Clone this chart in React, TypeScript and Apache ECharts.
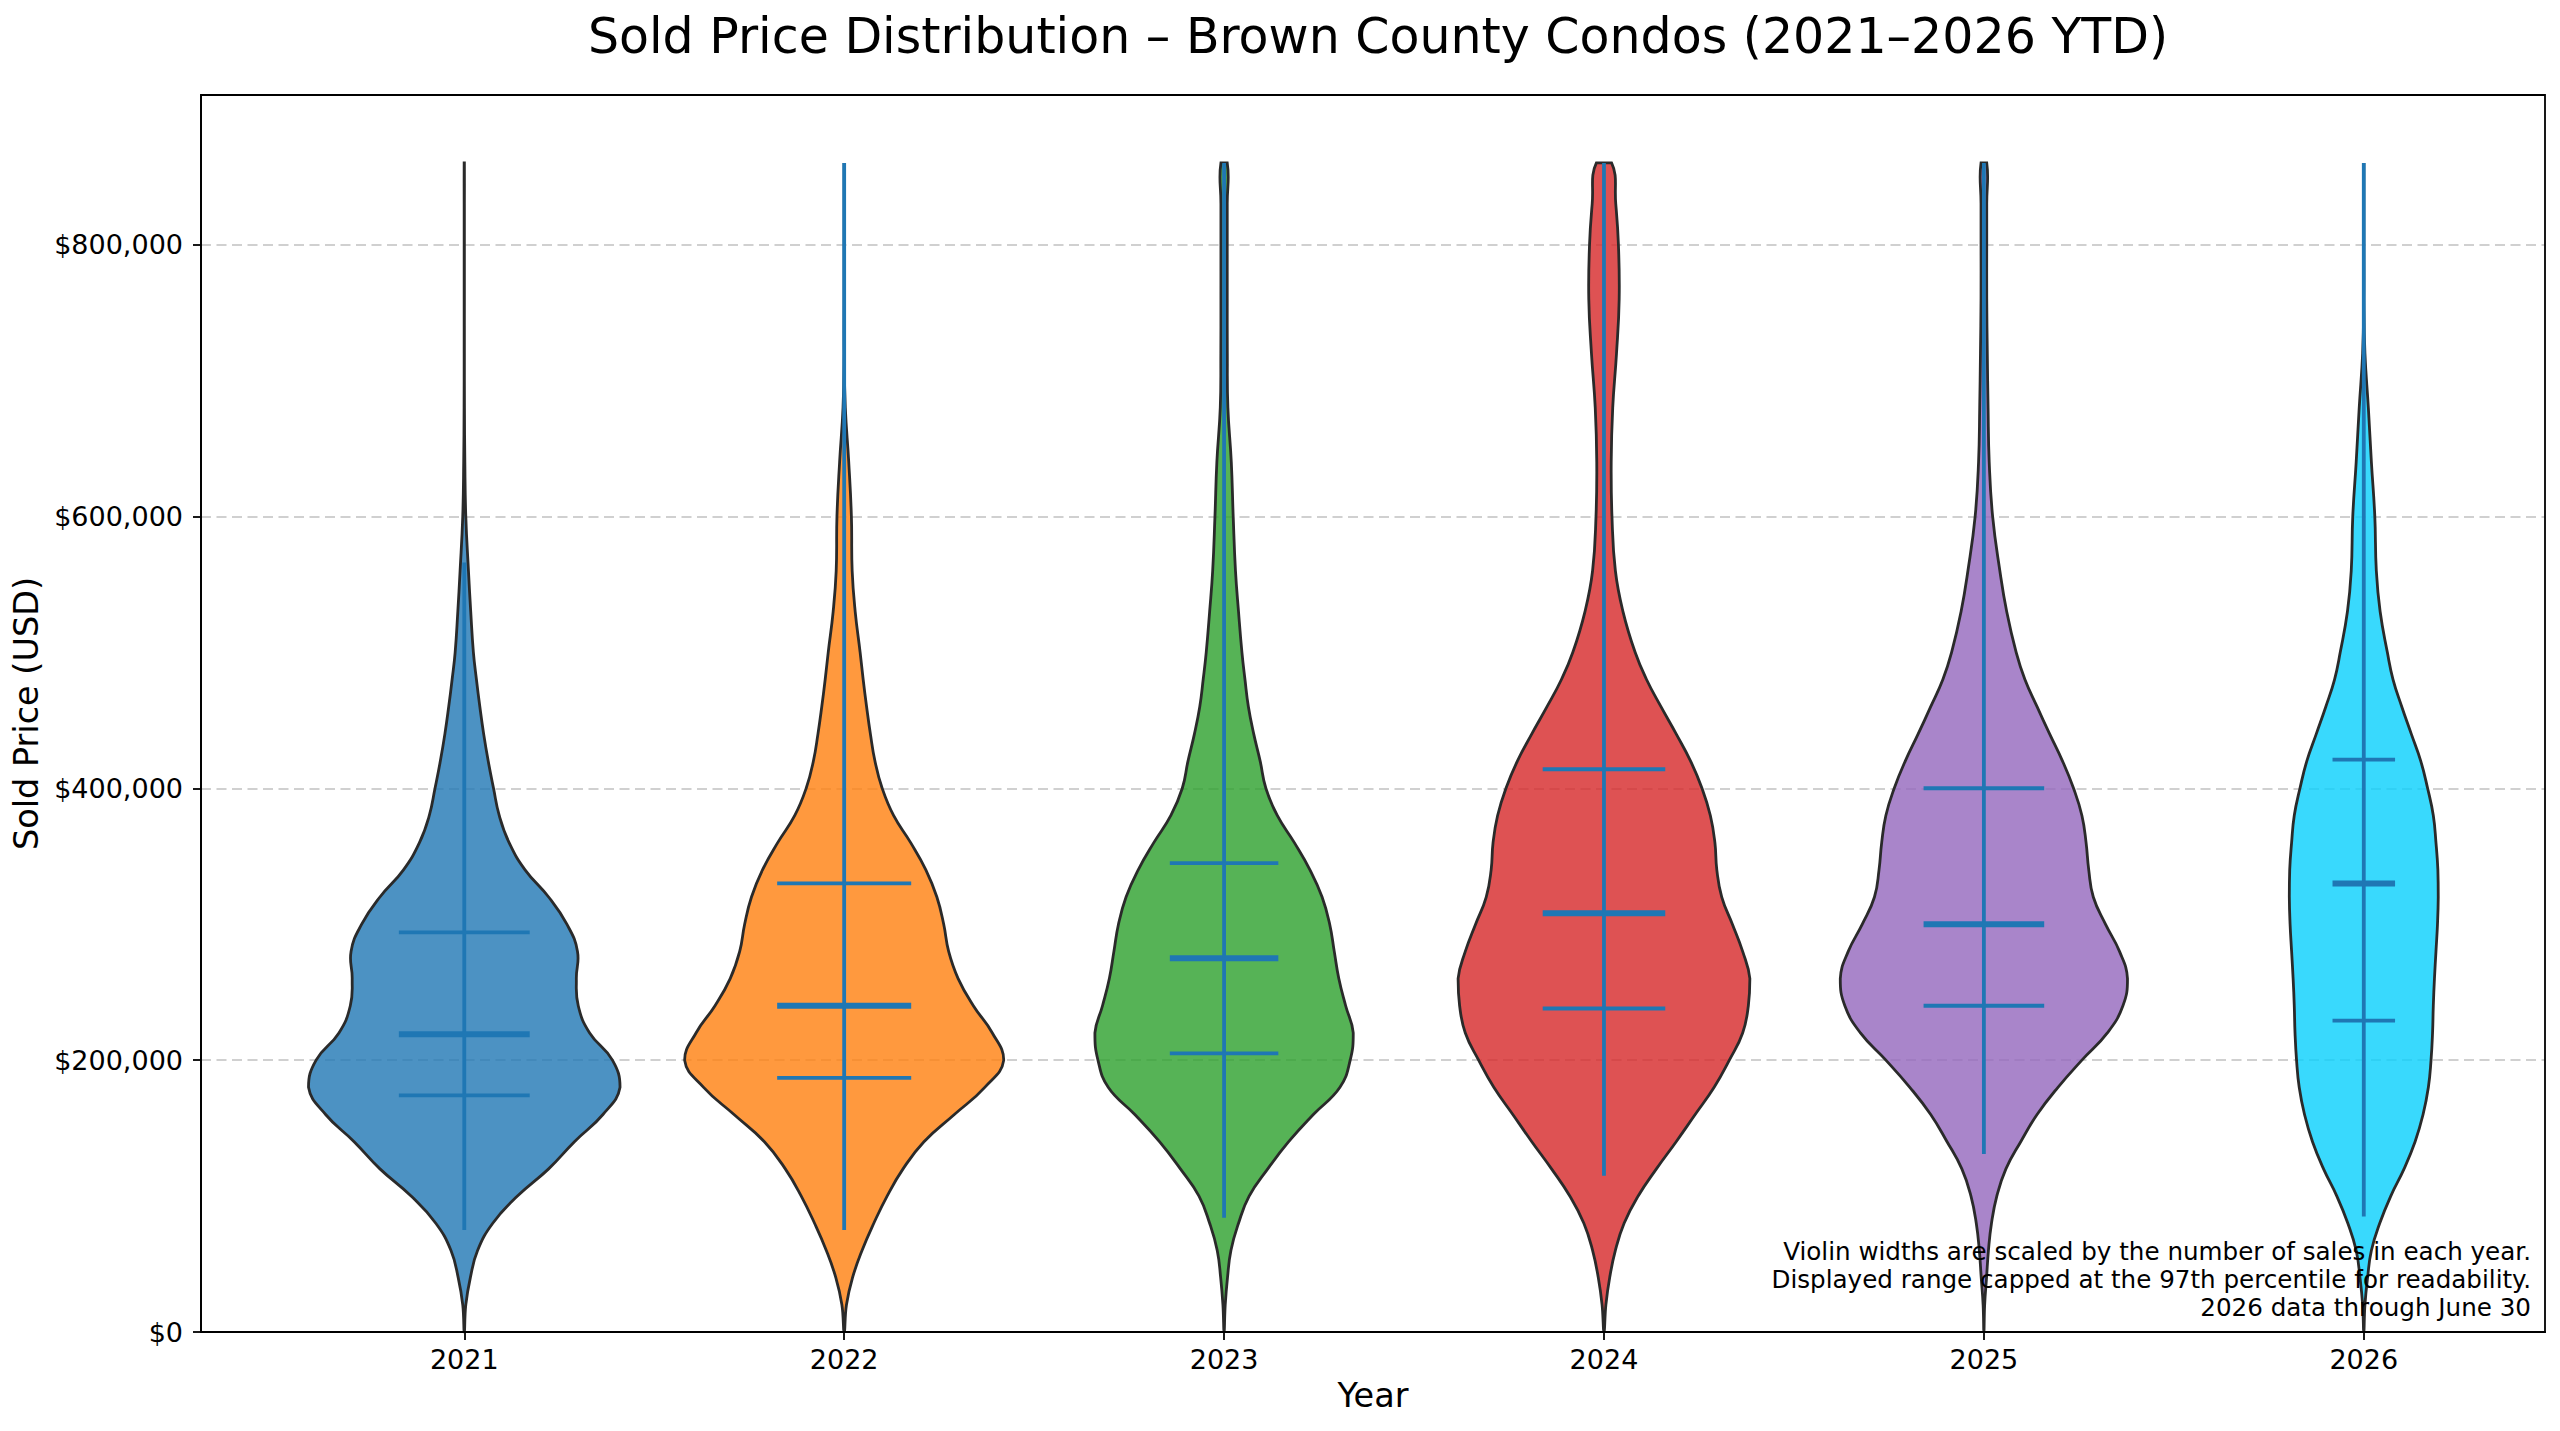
import { useEffect, useRef } from "react";
import * as echarts from "echarts";

const years = [2021, 2022, 2023, 2024, 2025, 2026];
const yearColors = ["#1f77b4", "#ff7f0e", "#2ca02c", "#d62728", "#9467bd", "#08d0fc"];

// price levels at which the violin half-widths were read (USD)
const priceLevels = [
  0, 20000, 40000, 60000, 80000, 100000, 120000, 140000, 160000, 180000, 200000, 220000, 240000,
  260000, 280000, 300000, 320000, 340000, 360000, 380000, 400000, 420000, 440000, 460000, 480000,
  500000, 530000, 560000, 600000, 640000, 680000, 720000, 760000, 800000, 830000, 860000,
];

// half-widths of each violin (in year units) at the price levels above
const width2021 = [
  0, 0.004, 0.016, 0.035, 0.075, 0.14, 0.222, 0.29, 0.365, 0.41, 0.39, 0.33, 0.3, 0.295, 0.298,
  0.27, 0.222, 0.16, 0.118, 0.092, 0.077, 0.063, 0.051, 0.041, 0.032, 0.024, 0.017, 0.011, 0.004,
  0.0015, 0.0005, 0.0003, 0.0003, 0.0003, 0.0003, 0.0003,
];
const width2022 = [
  0, 0.006, 0.022, 0.047, 0.078, 0.113, 0.155, 0.21, 0.29, 0.37, 0.42, 0.39, 0.34, 0.3, 0.275,
  0.262, 0.244, 0.215, 0.175, 0.13, 0.1, 0.081, 0.069, 0.059, 0.05, 0.042, 0.029, 0.021, 0.019,
  0.012, 0.003, 0, 0, 0, 0, 0,
];
const width2023 = [
  0, 0.003, 0.009, 0.018, 0.038, 0.066, 0.115, 0.17, 0.235, 0.305, 0.332, 0.34, 0.32, 0.302, 0.29,
  0.278, 0.258, 0.226, 0.185, 0.14, 0.11, 0.095, 0.078, 0.064, 0.055, 0.047, 0.038, 0.03, 0.024,
  0.019, 0.01, 0.0085, 0.0083, 0.0083, 0.0083, 0.0083,
];
const width2024 = [
  0, 0.005, 0.015, 0.03, 0.053, 0.09, 0.138, 0.19, 0.24, 0.29, 0.33, 0.365, 0.38, 0.384, 0.365,
  0.338, 0.31, 0.297, 0.292, 0.28, 0.258, 0.228, 0.19, 0.15, 0.112, 0.082, 0.05, 0.03, 0.021,
  0.019, 0.023, 0.033, 0.04, 0.038, 0.031, 0.02,
];
const width2025 = [
  0, 0.002, 0.007, 0.012, 0.02, 0.034, 0.058, 0.097, 0.14, 0.195, 0.258, 0.325, 0.366, 0.378,
  0.357, 0.32, 0.288, 0.276, 0.269, 0.258, 0.236, 0.207, 0.173, 0.14, 0.108, 0.085, 0.06, 0.042,
  0.023, 0.014, 0.011, 0.009, 0.0075, 0.0075, 0.0075, 0.0075,
];
const width2026 = [
  0, 0.003, 0.01, 0.02, 0.042, 0.071, 0.106, 0.135, 0.156, 0.17, 0.177, 0.181, 0.183, 0.186, 0.19,
  0.194, 0.196, 0.195, 0.19, 0.183, 0.168, 0.15, 0.125, 0.1, 0.077, 0.062, 0.043, 0.033, 0.029,
  0.02, 0.012, 0.003, 0, 0, 0, 0,
];
const widthsByYear = [width2021, width2022, width2023, width2024, width2025, width2026];

// summary lines drawn on each violin (USD)
const whiskerLow = [75000, 75000, 84000, 115000, 131000, 85000];
const whiskerHigh = [566000, 860000, 860000, 860000, 860000, 860000];
const q1Values = [174000, 187000, 205000, 238000, 240000, 229000];
const medianValues = [219000, 240000, 275000, 308000, 300000, 330000];
const q3Values = [294000, 330000, 345000, 414000, 400000, 421000];

const yTicks = [0, 200000, 400000, 600000, 800000];

const noteLines = [
  "Violin widths are scaled by the number of sales in each year.",
  "Displayed range capped at the 97th percentile for readability.",
  "2026 data through June 30",
];

const FONT = "DejaVu Sans";

function withAlpha(hex: string, a: number) {
  const n = parseInt(hex.slice(1), 16);
  return `rgba(${(n >> 16) & 255},${(n >> 8) & 255},${n & 255},${a})`;
}

function App() {
  const chartRef = useRef<HTMLDivElement>(null);

  useEffect(() => {
    const chart = echarts.init(chartRef.current, null, { renderer: "svg" });

    const gridLeft = 201;
    const gridTop = 95;
    const gridWidth = 2344;
    const gridHeight = 1237;

    const option = {
      animation: false,
      title: {
        text: "Sold Price Distribution – Brown County Condos (2021–2026 YTD)",
        left: gridLeft + gridWidth / 2,
        textAlign: "center",
        top: 7,
        textStyle: { fontFamily: FONT, fontSize: 49, fontWeight: "normal", color: "#000" },
      },
      grid: { left: gridLeft, top: gridTop, width: gridWidth, height: gridHeight },
      xAxis: {
        type: "value",
        min: 2020.307,
        max: 2026.477,
        name: "Year",
        nameLocation: "middle",
        nameGap: 46,
        nameTextStyle: { fontFamily: FONT, fontSize: 33.5, color: "#000" },
        axisLine: { show: true, lineStyle: { color: "#000", width: 1.8 } },
        axisTick: { show: true, length: 8, customValues: years, lineStyle: { color: "#000", width: 1.8 } },
        axisLabel: {
          customValues: years,
          formatter: (v: number) => String(Math.round(v)),
          fontFamily: FONT,
          fontSize: 27,
          color: "#000",
          margin: 14,
        },
        splitLine: { show: false },
      },
      yAxis: {
        type: "value",
        min: 0,
        max: 910000,
        interval: 200000,
        name: "Sold Price (USD)",
        nameLocation: "middle",
        nameGap: 157,
        nameTextStyle: { fontFamily: FONT, fontSize: 33.5, color: "#000" },
        axisLine: { show: true, lineStyle: { color: "#000", width: 1.8 } },
        axisTick: { show: true, length: 8, customValues: yTicks, lineStyle: { color: "#000", width: 1.8 } },
        axisLabel: {
          customValues: yTicks,
          formatter: (v: number) => "$" + v.toLocaleString("en-US"),
          fontFamily: FONT,
          fontSize: 27,
          color: "#000",
          margin: 18,
        },
        splitLine: { show: true, lineStyle: { color: "#d0d0d0", width: 1.8, type: [10, 5.5] } },
      },
      graphic: [
        {
          type: "rect",
          z: 100,
          silent: true,
          shape: { x: gridLeft, y: gridTop, width: gridWidth, height: gridHeight },
          style: { fill: "none", stroke: "#000", lineWidth: 1.8 },
        },
        {
          type: "text",
          z: 100,
          silent: true,
          x: 2531,
          y: 1322,
          style: {
            text: noteLines.join("\n"),
            align: "right",
            verticalAlign: "bottom",
            fontFamily: FONT,
            fontSize: 24.6,
            lineHeight: 28.3,
            fill: "#000",
          },
        },
      ],
      series: [
        {
          type: "custom",
          z: 2,
          data: years.map((y, i) => [y, i]),
          renderItem: (params: any, api: any) => {
            const i = params.dataIndex;
            const year = api.value(0);
            const w = widthsByYear[i];
            const right = priceLevels.map((p, k) => api.coord([year + w[k], p]));
            const left = priceLevels
              .map((p, k) => api.coord([year - w[k], p]))
              .slice(1)
              .reverse();
            const points = right.concat(left);
            const xs = points.map((pt: number[]) => pt[0]);
            const ys = points.map((pt: number[]) => pt[1]);
            const bounds = [
              [Math.min(...xs), Math.min(...ys)],
              [Math.max(...xs), Math.max(...ys)],
            ];
            return {
              type: "polygon",
              shape: { points, smooth: 0.45, smoothConstraint: bounds },
              style: {
                fill: withAlpha(yearColors[i], 0.8),
                stroke: "#2a2a2a",
                lineWidth: 2.8,
              },
            };
          },
        },
        {
          type: "custom",
          z: 3,
          data: years.map((y, i) => [y, i]),
          renderItem: (params: any, api: any) => {
            const i = params.dataIndex;
            const year = api.value(0);
            const half = Math.max(...widthsByYear[i]) * 0.42;
            const hline = (v: number, lw: number) => {
              const a = api.coord([year - half, v]);
              const b = api.coord([year + half, v]);
              return {
                type: "line",
                shape: { x1: a[0], y1: a[1], x2: b[0], y2: b[1] },
                style: { stroke: "#1f77b4", lineWidth: lw },
              };
            };
            const lo = api.coord([year, whiskerLow[i]]);
            const hi = api.coord([year, whiskerHigh[i]]);
            return {
              type: "group",
              children: [
                {
                  type: "line",
                  shape: { x1: lo[0], y1: lo[1], x2: hi[0], y2: hi[1] },
                  style: { stroke: "#1f77b4", lineWidth: 3.8 },
                },
                hline(q1Values[i], 3.8),
                hline(q3Values[i], 3.8),
                hline(medianValues[i], 6),
              ],
            };
          },
        },
      ],
    };

    chart.setOption(option);

    return () => {
      chart.dispose();
    };
  }, []);

  return (
    <div
      ref={chartRef}
      style={{ position: "fixed", left: 0, top: 0, width: 2560, height: 1431, background: "#fff" }}
    />
  );
}

export default App;
